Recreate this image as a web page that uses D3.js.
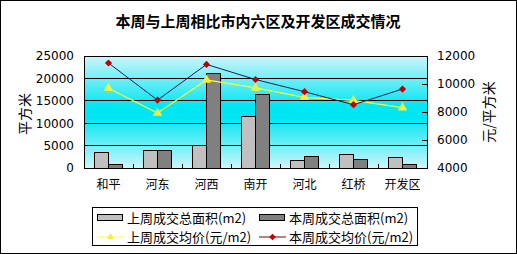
<!DOCTYPE html>
<html><head><meta charset="utf-8">
<script src="https://cdn.jsdelivr.net/npm/d3@7"></script>
<style>body{margin:0;background:#fff;}svg{display:block;font-family:"Noto Sans CJK SC","DejaVu Sans",sans-serif;}</style>
</head><body>
<svg id="c" width="517" height="254"></svg>
<script>
const categories = ["和平","河东","河西","南开","河北","红桥","开发区"];
const lastWeekArea = [3500, 3800, 5100, 11500, 1700, 3050, 2400];
const thisWeekArea = [800, 3800, 21100, 16300, 2600, 2000, 800];
const lastWeekPrice = [9700, 7930, 10290, 9720, 9050, 8830, 8310];
const thisWeekPrice = [11500, 8850, 11400, 10320, 9450, 8520, 9640];
const leftTicks = [0, 5000, 10000, 15000, 20000, 25000];
const rightTicks = [4000, 6000, 8000, 10000, 12000];
const seriesNames = ["上周成交总面积(m2)","本周成交总面积(m2)","上周成交均价(元/m2)","本周成交均价(元/m2)"];

const svg = d3.select("#c");
const L = 84, R = 427, T = 56, B = 168;

svg.append("rect").attr("x",0.5).attr("y",0.5).attr("width",516).attr("height",253)
  .attr("fill","#fff").attr("stroke","#000");

svg.append("text").attr("x",258).attr("y",27).attr("text-anchor","middle")
  .attr("font-size",15).attr("font-weight","bold").text("本周与上周相比市内六区及开发区成交情况");

const defs = svg.append("defs");
const g = defs.append("linearGradient").attr("id","bg").attr("x1",0).attr("y1",0).attr("x2",0).attr("y2",1);
g.append("stop").attr("offset","0%").attr("stop-color","#cdf6fb");
g.append("stop").attr("offset","45%").attr("stop-color","#00e6f2");
g.append("stop").attr("offset","55%").attr("stop-color","#00e6f2");
g.append("stop").attr("offset","100%").attr("stop-color","#cdf6fb");

const x = d3.scaleBand().domain(categories).range([L,R]).paddingInner(0).paddingOuter(0);
const yL = d3.scaleLinear().domain([0,25000]).range([B,T]);
const yR = d3.scaleLinear().domain([4000,12000]).range([B,T]);

svg.append("rect").attr("x",L).attr("y",T).attr("width",R-L).attr("height",B-T).attr("fill","url(#bg)");

// gridlines
svg.append("g").selectAll("line").data(leftTicks.slice(1)).join("line")
  .attr("x1",L).attr("x2",R).attr("y1",d=>yL(d)).attr("y2",d=>yL(d))
  .attr("stroke","#000").attr("stroke-width",1).attr("shape-rendering","crispEdges");

// bars
const bw = 14;
const gBars = svg.append("g").attr("shape-rendering","crispEdges");
gBars.selectAll(".a").data(lastWeekArea).join("rect")
  .attr("x",(d,i)=>x(categories[i])+x.bandwidth()/2-bw).attr("width",bw)
  .attr("y",d=>yL(d)).attr("height",d=>B-yL(d))
  .attr("fill","#c0c0c0").attr("stroke","#000");
gBars.selectAll(".b").data(thisWeekArea).join("rect")
  .attr("x",(d,i)=>x(categories[i])+x.bandwidth()/2).attr("width",bw)
  .attr("y",d=>yL(d)).attr("height",d=>B-yL(d))
  .attr("fill","#808080").attr("stroke","#000");

// axes
const axL = d3.axisLeft(yL).tickValues(leftTicks).tickSize(0).tickPadding(10).tickFormat(d3.format("d"));
const aL = svg.append("g").attr("transform",`translate(${L},0)`).call(axL);
const axR = d3.axisRight(yR).tickValues(rightTicks).tickSize(-5).tickPadding(10).tickFormat(d3.format("d"));
const aR = svg.append("g").attr("transform",`translate(${R},0)`).call(axR);
const axB = d3.axisBottom(x).tickSize(0).tickPadding(10);
const aB = svg.append("g").attr("transform",`translate(0,${B})`).call(axB);
[aL,aR,aB].forEach(a=>{
  a.select(".domain").attr("stroke","#000").attr("shape-rendering","crispEdges");
  a.selectAll("text").attr("font-size",12).attr("fill","#000").attr("font-family","'DejaVu Sans',sans-serif");
  a.selectAll("line").attr("stroke","#000").attr("shape-rendering","crispEdges");
});
aB.selectAll("text").attr("font-family","'Noto Sans CJK SC',sans-serif").attr("dy","0.95em");
aR.selectAll("text").attr("text-anchor","start");
// category separator ticks
svg.append("g").selectAll("line").data(categories.slice(1)).join("line")
  .attr("x1",d=>x(d)).attr("x2",d=>x(d)).attr("y1",B).attr("y2",B-4)
  .attr("stroke","#000").attr("shape-rendering","crispEdges");
svg.append("rect").attr("x",L).attr("y",T).attr("width",R-L).attr("height",B-T)
  .attr("fill","none").attr("stroke","#000").attr("shape-rendering","crispEdges");

// lines
const cx = i => x(categories[i]) + x.bandwidth()/2;
const lineY = d3.line().x((d,i)=>cx(i)).y(d=>yR(d));
svg.append("path").attr("d",lineY(lastWeekPrice)).attr("fill","none").attr("stroke","#ffff33").attr("stroke-width",1.2);
svg.append("g").selectAll("path").data(lastWeekPrice).join("path")
  .attr("transform",(d,i)=>`translate(${cx(i)},${yR(d)})`)
  .attr("d",d3.symbol(d3.symbolTriangle,40)).attr("fill","#f0f040");
svg.append("path").attr("d",lineY(thisWeekPrice)).attr("fill","none").attr("stroke","#1a1a5a").attr("stroke-width",1);
svg.append("g").selectAll("path").data(thisWeekPrice).join("path")
  .attr("transform",(d,i)=>`translate(${cx(i)},${yR(d)}) rotate(45)`)
  .attr("d",d3.symbol(d3.symbolSquare,26)).attr("fill","#c00000");

// axis titles
svg.append("text").attr("transform","translate(30,114) rotate(-90)").attr("text-anchor","middle")
  .attr("font-size",14).text("平方米");
svg.append("text").attr("transform","translate(494,112) rotate(-90)").attr("text-anchor","middle")
  .attr("font-size",14).text("元/平方米");

// legend
const lg = svg.append("g");
lg.append("rect").attr("x",92.5).attr("y",207.5).attr("width",325).attr("height",38)
  .attr("fill","#fff").attr("stroke","#000");
const items = [
  {x:97, y:218, type:"bar", fill:"#c0c0c0"},
  {x:259, y:218, type:"bar", fill:"#808080"},
  {x:97, y:237, type:"line", stroke:"#ffff33", mfill:"#f0f040", sym:d3.symbolTriangle, rot:0},
  {x:259, y:237, type:"line", stroke:"#800000", mfill:"#c00000", sym:d3.symbolSquare, rot:45}
];
items.forEach((it,i)=>{
  if(it.type==="bar"){
    lg.append("rect").attr("x",it.x+0.5).attr("y",it.y-3.5).attr("width",25).attr("height",6)
      .attr("fill",it.fill).attr("stroke","#000");
  } else {
    lg.append("line").attr("x1",it.x).attr("x2",it.x+27).attr("y1",it.y).attr("y2",it.y).attr("stroke",it.stroke);
    lg.append("path").attr("transform",`translate(${it.x+13.5},${it.y}) rotate(${it.rot})`).attr("d",d3.symbol(it.sym,22)).attr("fill",it.mfill);
  }
  lg.append("text").attr("x",it.x+30).attr("y",it.y+5).attr("font-size",13).text(seriesNames[i]);
});
</script>
</body></html>
